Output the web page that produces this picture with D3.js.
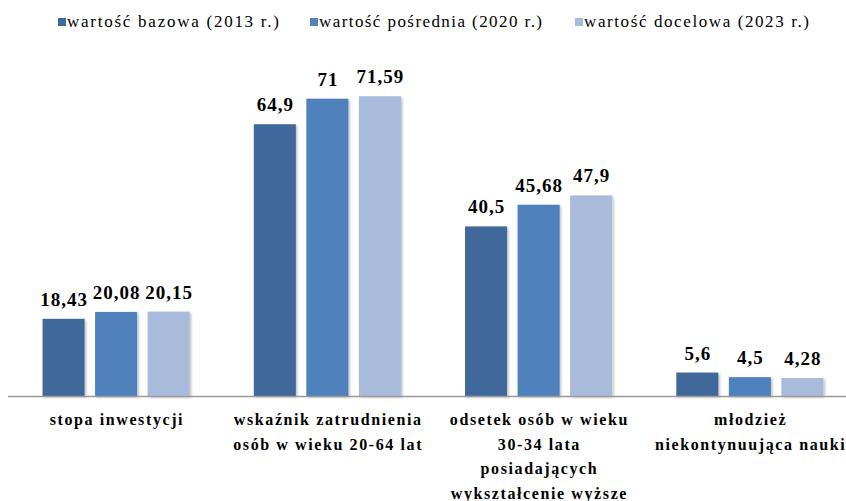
<!DOCTYPE html>
<html>
<head>
<meta charset="utf-8">
<script src="https://cdn.jsdelivr.net/npm/d3@7"></script>
<style>
  body { margin: 0; background: #fff; }
  svg { display: block; }
</style>
</head>
<body>
<div id="chart"></div>
<script>
// data
var categories = [
    ["stopa inwestycji"],
    ["wskaźnik zatrudnienia", "osób w wieku 20-64 lat"],
    ["odsetek osób w wieku", "30-34 lata", "posiadających", "wykształcenie wyższe"],
    ["młodzież", "niekontynuująca nauki"]
];
var seriesNames = ["wartość bazowa (2013 r.)", "wartość pośrednia (2020 r.)", "wartość docelowa (2023 r.)"];
var bazowa = [18.43, 64.9, 40.5, 5.6];
var posrednia = [20.08, 71, 45.68, 4.5];
var docelowa = [20.15, 71.59, 47.9, 4.28];
var colors = ["#41689A", "#4F81BD", "#A9BBDB"];

var width = 846, height = 501;
var allSeries = [bazowa, posrednia, docelowa];
var serif = "'Liberation Serif', 'Times New Roman', serif";

var svg = d3.select("#chart").append("svg")
    .attr("width", width)
    .attr("height", height);

// soft shadow under the bars
var defs = svg.append("defs");
var filter = defs.append("filter").attr("id", "shadow")
    .attr("x", "-20%").attr("y", "-20%").attr("width", "140%").attr("height", "140%");
filter.append("feDropShadow")
    .attr("dx", 1.5).attr("dy", 1.5).attr("stdDeviation", 1.2)
    .attr("flood-color", "#000").attr("flood-opacity", 0.25);

var x = d3.scaleBand()
    .domain(d3.range(categories.length))
    .range([10.5, 855.5]);

var xSub = d3.scaleBand()
    .domain(d3.range(seriesNames.length))
    .range([0, x.bandwidth()])
    .paddingInner(0.2)
    .paddingOuter(0.61);

var y = d3.scaleLinear()
    .domain([0, 80])
    .range([396, 61]);

var fmt = function (v) { return String(v).replace(".", ","); };

// bars
var groups = svg.selectAll("g.group")
    .data(categories)
    .enter()
    .append("g")
    .attr("class", "group")
    .attr("transform", function (d, i) { return "translate(" + x(i) + ",0)"; });

groups.each(function (d, i) {
    var g = d3.select(this);
    var vals = allSeries.map(function (s) { return s[i]; });

    g.selectAll("rect")
        .data(vals)
        .enter()
        .append("rect")
        .attr("x", function (v, j) { return xSub(j); })
        .attr("y", function (v) { return y(v); })
        .attr("width", xSub.bandwidth())
        .attr("height", function (v) { return y(0) - y(v); })
        .attr("fill", function (v, j) { return colors[j]; })
        .attr("filter", "url(#shadow)");

    g.selectAll("text.value")
        .data(vals)
        .enter()
        .append("text")
        .attr("class", "value")
        .attr("x", function (v, j) { return xSub(j) + xSub.bandwidth() / 2 + 0.5; })
        .attr("y", function (v) { return y(v) - 13; })
        .attr("text-anchor", "middle")
        .style("font-family", serif)
        .style("font-weight", "bold")
        .style("font-size", "19px")
        .style("letter-spacing", "1px")
        .style("fill", "#000")
        .text(fmt);
});

// axis line
svg.append("line")
    .attr("x1", 8).attr("x2", width)
    .attr("y1", y(0) + 0.5).attr("y2", y(0) + 0.5)
    .attr("stroke", "#9A9A9A")
    .attr("stroke-width", 1.5);

// category labels
categories.forEach(function (lines, i) {
    var t = svg.append("text")
        .attr("text-anchor", "middle")
        .style("font-family", serif)
        .style("font-weight", "bold")
        .style("font-size", "16px")
        .style("letter-spacing", "1.6px")
        .style("fill", "#000");
    lines.forEach(function (line, k) {
        t.append("tspan")
            .attr("x", x(i) + x.bandwidth() / 2 + 0.8)
            .attr("y", 425 + k * 24.5)
            .text(line);
    });
});

// legend
var legendX = [58, 310, 575];
var legendW = [212, 223, 225];
var legend = svg.selectAll("g.legend")
    .data(seriesNames)
    .enter()
    .append("g")
    .attr("class", "legend")
    .attr("transform", function (d, i) { return "translate(" + legendX[i] + ",0)"; });

legend.append("rect")
    .attr("x", 0).attr("y", 18)
    .attr("width", 8).attr("height", 8)
    .attr("fill", function (d, i) { return colors[i]; });

legend.append("text")
    .attr("x", 9).attr("y", 27)
    .attr("textLength", function (d, i) { return legendW[i]; })
    .attr("lengthAdjust", "spacing")
    .style("font-family", serif)
    .style("font-size", "17px")
    .style("fill", "#000")
    .text(function (d) { return d; });
</script>
</body>
</html>
